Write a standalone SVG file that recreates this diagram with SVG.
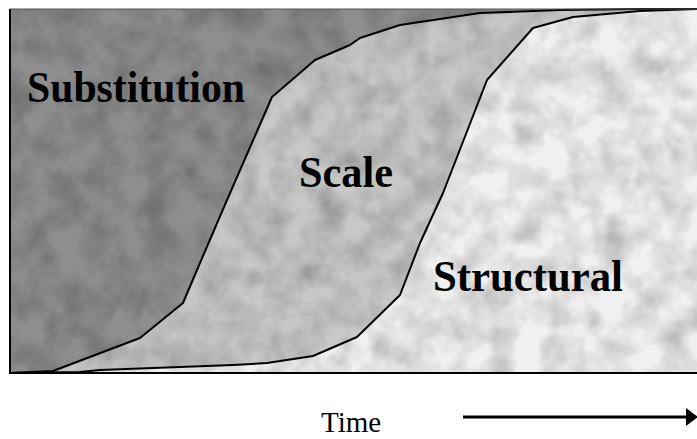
<svg xmlns="http://www.w3.org/2000/svg" width="697" height="439" viewBox="0 0 697 439">
  <defs>
    <style>
      .lbl { font-family: "Liberation Serif", "Times New Roman", serif; font-weight: bold; font-size: 44px; fill: #000; }
      .axis { font-family: "Liberation Serif", "Times New Roman", serif; font-size: 29px; fill: #000; }
      .curve { fill: none; stroke: #000; stroke-width: 2; stroke-linejoin: round; }
    </style>
    <filter id="noise" x="0" y="0" width="100%" height="100%">
      <feTurbulence type="fractalNoise" baseFrequency="0.035" numOctaves="3" seed="7"/>
      <feColorMatrix type="matrix" values="0 0 0 0 0  0 0 0 0 0  0 0 0 0 0  0.9 0.9 0.9 0 -1.1"/>
    </filter>
    <clipPath id="box"><rect x="10" y="9" width="687" height="364"/></clipPath>
    <marker id="arrow" viewBox="0 0 12 18" refX="0" refY="9" markerWidth="12" markerHeight="18" markerUnits="userSpaceOnUse" orient="auto">
      <path d="M0,0 L12,9 L0,18 Z" fill="#000"/>
    </marker>
  </defs>

  <rect width="697" height="439" fill="#fff"/>

  <g id="regions" clip-path="url(#box)">
    <rect id="structural-area" x="10" y="9" width="687" height="364" fill="#f0f0f0"/>
    <path id="scale-area" fill="#c8c8c8" d="M10,373 L80,372 L100,370 L233,365 L267,363 L313,356 L357,337 L400,295 L420,243 L443,193 L487,80 L533,28 L573,17 L640,11 L697,9 L10,9 Z"/>
    <path id="substitution-area" fill="#8e8e8e" d="M10,373 L53,371 L140,338 L183,303 L197,270 L227,200 L272,97 L315,60 L350,45 L360,38 L400,25 L480,13 L560,10 L640,9 L10,9 Z"/>
    <rect x="10" y="9" width="687" height="364" filter="url(#noise)" opacity="0.25"/>
  </g>

  <g id="connectors">
    <path class="curve" d="M10,373 L53,371 L140,338 L183,303 L197,270 L227,200 L272,97 L315,60 L350,45 L360,38 L400,25 L480,13 L560,10 L640,9 L697,9"/>
    <path class="curve" d="M10,373 L80,372 L100,370 L233,365 L267,363 L313,356 L357,337 L400,295 L420,243 L443,193 L487,80 L533,28 L573,17 L640,11 L697,9"/>
    <path id="frame-top" fill="none" stroke="#555" stroke-width="1" d="M10,9 L697,9"/>
    <path id="frame" fill="none" stroke="#000" stroke-width="2" d="M10,9 L10,373 L697,373"/>
    <line id="time-arrow" x1="463" y1="417" x2="686" y2="417" stroke="#000" stroke-width="3" marker-end="url(#arrow)"/>
  </g>

  <g id="substitution"><text class="lbl" x="27" y="102" textLength="218" lengthAdjust="spacingAndGlyphs">Substitution</text></g>
  <g id="scale"><text class="lbl" x="299" y="187" textLength="94" lengthAdjust="spacingAndGlyphs">Scale</text></g>
  <g id="structural"><text class="lbl" x="433" y="291" textLength="190" lengthAdjust="spacingAndGlyphs">Structural</text></g>
  <g id="time"><text class="axis" x="321" y="432">Time</text></g>
</svg>
